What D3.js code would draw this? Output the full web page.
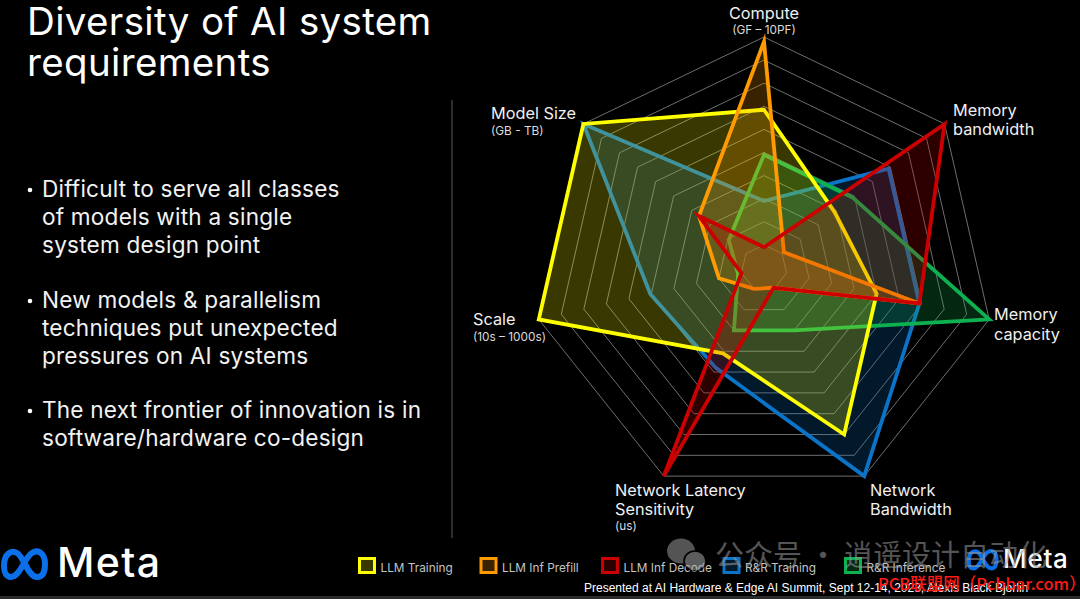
<!DOCTYPE html>
<html><head><meta charset="utf-8">
<script src="https://cdn.jsdelivr.net/npm/d3@7"></script>
<style>html,body{margin:0;padding:0;background:#000}svg{display:block}text{font-family:Inter,sans-serif}</style>
</head><body><div id="c"></div>
<script>
const axes = ["Compute","Memory bandwidth","Memory capacity","Network Bandwidth","Network Latency Sensitivity","Scale","Model Size"];
const levels = [1,2,3,4,5,6,7,8,9,10];
const rrTraining  = [2.9,6.9,6.9,10,4.8,5.05,10];
const rrInference = [4.9,4.9,10,3.0,3.0,1.15,1.95];
const llmTraining = [6.85,3.9,5.0,8.0,4.1,10,10];
const llmPrefill  = [9.8,1.1,6.9,0.95,1.0,2.0,3.6];
const llmDecode   = [0.9,10,6.9,0.95,10,1.0,3.6];
const seriesNames = ["LLM Training","LLM Inf Prefill","LLM Inf Decode","R&R Training","R&R Inference"];
const titleLines = ["Diversity of AI system","requirements"];
const bullets = [["Difficult to serve all classes","of models with a single","system design point"],
 ["New models & parallelism","techniques put unexpected","pressures on AI systems"],
 ["The next frontier of innovation is in","software/hardware co-design"]];

const W=1080,H=599,cx=764,cy=268,R=231;
const svg=d3.select("#c").append("svg").attr("width",W).attr("height",H);
svg.append("rect").attr("width",W).attr("height",H).attr("fill","#000");
svg.append("rect").attr("y",596).attr("width",W).attr("height",3).attr("fill","#2b2b2b");

// left text
const titleY=d3.scaleLinear().domain([0,1]).range([35,76]);
svg.append("g").selectAll("text").data(titleLines).join("text")
 .attr("x",27).attr("y",(d,i)=>titleY(i)).attr("fill","#fff").attr("font-size",38.5).attr("letter-spacing",0.35).text(d=>d);
const bulletTop=[197,308,418];
bullets.forEach((b,k)=>{
  svg.append("circle").attr("cx",30).attr("cy",bulletTop[k]-7).attr("r",2.3).attr("fill","#fff");
  b.forEach((t,i)=>svg.append("text").attr("x",42).attr("y",bulletTop[k]+i*27.8).attr("fill","#f2f2f2").attr("font-size",22.6).attr("letter-spacing",0.2).text(t));
});
svg.append("line").attr("x1",452).attr("x2",452).attr("y1",100).attr("y2",538).attr("stroke","#5a5a5a").attr("stroke-width",1);

// radar
const g=svg.append("g").attr("transform",`translate(${cx},${cy})`);
const r=d3.scaleLinear().domain([0,10]).range([0,R]);
const ang=d3.scalePoint().domain(axes).range([0,2*Math.PI*6/7]);
const radial=d3.lineRadial().angle((d,i)=>ang(axes[i])).radius(d=>r(d)).curve(d3.curveLinearClosed);
g.append("g").selectAll("path").data(levels).join("path")
 .attr("d",l=>radial(axes.map(()=>l))).attr("fill","none").attr("stroke","#6e6e6e").attr("stroke-width",1);
const C={y:"#ffff00",o:"#ff9a00",r:"#cc0000",b:"#0b74c8",g:"#0db14f"};
const polys=[[rrTraining,C.b],[rrInference,C.g],[llmTraining,C.y],[llmPrefill,C.o],[llmDecode,C.r]];
g.append("g").selectAll("path").data(polys).join("path")
 .attr("d",d=>radial(d[0])).attr("fill",d=>d[1]).attr("fill-opacity",.22)
 .attr("stroke",d=>d[1]).attr("stroke-width",3.8).attr("stroke-linejoin","miter").attr("stroke-miterlimit",6);

// axis labels
const lab=(x,y,t,s,a)=>svg.append("text").attr("x",x).attr("y",y).attr("fill",s<14?"#dcdcdc":"#f0f0f0").attr("font-size",s).attr("text-anchor",a||"start").text(t);
const M=16.3, S=11.8;
lab(764,19,"Compute",M,"middle"); lab(764,34,"(GF – 10PF)",S,"middle");
lab(953,116,"Memory",M); lab(953,135,"bandwidth",M);
lab(994,320,"Memory",M); lab(994,340,"capacity",M);
lab(870,496,"Network",M); lab(870,515,"Bandwidth",M);
lab(615,496,"Network Latency",M); lab(615,515,"Sensitivity",M); lab(615,530,"(us)",S);
lab(473,325,"Scale",M); lab(473,341,"(10s – 1000s)",S);
lab(491,119,"Model Size",M); lab(491,135,"(GB - TB)",S);

// legend
const legendColors=[C.y,C.o,C.r,C.b,C.g];
const legendX=d3.scaleLinear().domain([0,4]).range([359.5,845.5]);
const leg=svg.append("g").selectAll("g").data(seriesNames).join("g").attr("transform",(d,i)=>`translate(${legendX(i)},558.5)`);
leg.append("rect").attr("width",15).attr("height",14).attr("fill",(d,i)=>legendColors[i]).attr("fill-opacity",.22)
 .attr("stroke",(d,i)=>legendColors[i]).attr("stroke-width",3);
leg.append("text").attr("x",21).attr("y",13).attr("fill","#c4c4c4").attr("font-size",11.8).text(d=>d);

// Meta logo
const logo=(x,y,s,tx,fs,ls)=>{
 const l=svg.append("g").attr("transform",`translate(${x},${y}) scale(${s})`);
 l.append("path").attr("d","M4 19 C4 6 12 3 17 6 C24 10 28 30 37 30 C44 30 45 22 45 17 C45 6 38 2 32 6 C24 11 20 30 11 30 C6 30 4 25 4 19 Z")
  .attr("fill","none").attr("stroke","#0a6fe8").attr("stroke-width",6);
 svg.append("text").attr("x",tx).attr("y",y+30*s).attr("fill","#fff").attr("font-size",fs).attr("font-weight",500).attr("letter-spacing",ls).text("Meta");
};
logo(0,547,1,57,41,1.4);
logo(966,548,.68,1003,26,0.7);

// footer
svg.append("text").attr("x",584).attr("y",592).attr("fill","#fff").attr("font-size",12).style("font-family","Liberation Sans").text("Presented at AI Hardware & Edge AI Summit, Sept 12-14, 2023, Alexis Black Bjorlin");

// watermark
const wm=svg.append("g").attr("opacity",.55);
wm.append("ellipse").attr("cx",681).attr("cy",551).attr("rx",14).attr("ry",12.5).attr("fill","#9a9a9a");
wm.append("ellipse").attr("cx",695).attr("cy",561).attr("rx",11).attr("ry",10).attr("fill","#a8a8a8").attr("stroke","#000").attr("stroke-width",1.5);
wm.append("text").attr("x",715).attr("y",566).attr("fill","#9a9a9a").attr("font-size",29).style("font-family","Noto Sans CJK SC").text("公众号 · 逍遥设计自动化");
svg.append("text").attr("x",878).attr("y",590).attr("fill","#ff1a1a").attr("font-size",16.5).attr("font-weight",500).style("font-family","Noto Sans CJK SC").text("PCB联盟网（Pcbbar.com）");
</script></body></html>
